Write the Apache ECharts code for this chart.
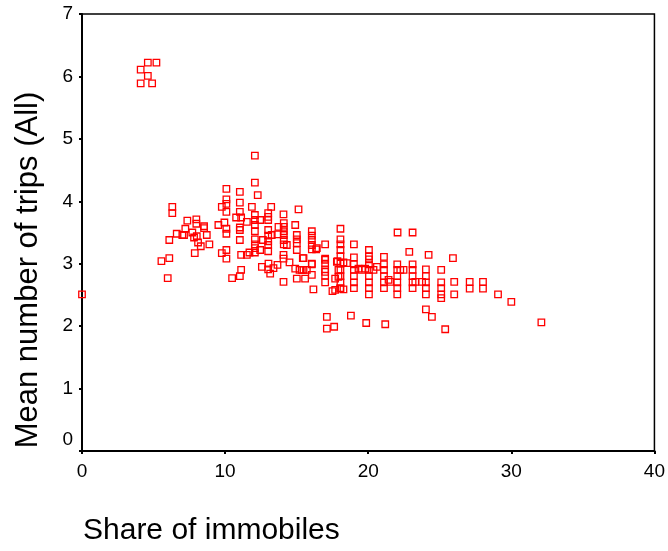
<!DOCTYPE html>
<html>
<head>
<meta charset="utf-8">
<script src="https://cdn.jsdelivr.net/npm/echarts@6/dist/echarts.min.js"></script>
<style>
html,body{margin:0;padding:0;background:#fff;}
#chart{width:668px;height:551px;}
</style>
</head>
<body>
<div id="chart"></div>
<script>
// Share of immobiles (x) and mean number of trips (y)
var shareImmobiles = [
  4.1,4.6,5.2,4.6,4.1,4.9,
  0,
  10.09,11.03,6.31,6.31,9.77,10.09,10.09,10.09,11.03,11.03,10.77,11.12,7.36,7.99,7.99,8.53,8.53,9.53,9.95,10.09,10.09,11.03,11.03,7.22,6.62,7.01,7.13,7.71,7.83,8.02,8.72,11.03,6.10,8.11,8.30,8.90,7.88,9.77,10.09,10.09,11.12,6.10,5.55,11.12,10.49,11.03,5.99,
  12.08,12.08,12.28,11.87,13.22,15.13,14.08,
  12.08,12.08,12.08,12.08,
  13.01,13.01,13.01,12.45,11.52,14.9,
  14.1,14.1,14.1,14.1,14.1,14.1,
  13.73,
  13.01,13.01,13.01,13.01,13.01,
  13.26,13.66,
  12.08,12.08,12.08,12.08,
  12.64,11.70,11.52,12.45,
  15.01,15.01,15.01,15.01,
  16.06,16.06,16.06,16.06,16.06,
  14.31,15.43,16.41,16.99,
  14.08,14.08,14.50,
  13.03,12.57,13.01,13.38,13.15,13.66,
  14.9,15.2,15.36,15.71,
  16.06,
  16.99,16.99,16.99,16.99,16.99,
  17.81,17.92,17.92,
  16.06,15.01,15.59,14.08,16.17,17.50,
  17.11,17.11,17.62,
  18.06,22.05,23.10,19.0,
  18.06,18.06,18.06,18.06,
  20.05,20.05,22.87,24.22,18.51,
  19.0,19.0,19.0,19.0,19.0,19.0,
  20.05,20.05,20.05,20.05,20.05,20.05,20.05,
  21.10,21.10,21.10,21.10,21.10,21.10,
  22.03,22.03,22.03,22.03,22.03,22.03,
  23.10,23.10,23.10,23.10,23.10,
  24.03,24.03,24.03,24.03,24.03,
  25.10,25.10,25.10,25.10,25.10,
  18.06,18.06,18.06,18.06,18.06,
  19.56,19.79,20.37,20.61,19.32,
  21.54,21.42,22.47,23.29,23.76,
  18.27,24.03,24.45,18.79,19.86,21.19,25.38,
  25.92,26.01,26.01,27.09,27.09,28.02,28.02,29.07,30.0,32.1,
  16.36,15.48,15.48,17.85,18.27,16.06,17.69,17.69,18.04,
  22.24,16.99,16.99
];
var meanTrips = [
  6.11,6.22,6.22,6.01,5.89,5.89,
  2.51,
  4.20,4.15,3.91,3.81,3.91,4.03,3.96,3.83,3.98,3.83,3.74,3.74,3.69,3.71,3.64,3.60,3.57,3.62,3.66,3.56,3.48,3.58,3.54,3.56,3.48,3.46,3.46,3.50,3.42,3.44,3.46,3.38,3.38,3.34,3.28,3.31,3.17,3.17,3.22,3.08,3.14,3.09,3.04,2.90,2.77,2.80,2.77,
  4.73,4.30,4.10,3.91,3.91,3.87,3.79,
  3.78,3.70,3.62,3.52,
  3.81,3.75,3.70,3.70,3.67,3.62,
  3.65,3.59,3.52,3.46,3.38,3.31,
  3.59,
  3.54,3.45,3.36,3.30,3.20,
  3.46,3.47,
  3.39,3.31,3.25,3.18,
  3.38,3.18,3.14,3.22,
  3.46,3.39,3.33,3.22,
  3.52,3.45,3.38,3.30,3.23,
  3.30,3.09,3.25,3.31,
  3.14,3.08,3.02,
  3.00,2.95,2.91,2.93,2.84,2.98,
  2.92,2.90,2.90,2.90,
  3.00,
  3.08,3.06,2.91,2.87,2.81,
  3.03,2.90,2.79,
  2.82,2.76,2.76,2.71,2.59,2.56,
  2.15,1.96,1.99,
  3.56,3.50,3.50,3.31,
  3.39,3.31,3.22,3.12,
  3.22,3.12,3.19,3.14,3.01,
  3.10,2.99,2.90,2.80,2.70,2.61,
  3.07,2.99,2.90,2.80,2.70,2.61,2.51,
  3.11,2.99,2.90,2.80,2.70,2.61,
  2.99,2.90,2.80,2.70,2.61,2.51,
  2.99,2.90,2.80,2.70,2.61,
  2.91,2.80,2.70,2.61,2.51,
  2.90,2.70,2.61,2.51,2.45,
  3.00,2.90,2.80,2.70,2.61,
  2.90,2.92,2.90,2.95,2.92,
  2.71,2.74,2.90,2.71,2.71,
  2.59,2.27,2.15,2.17,2.05,2.03,1.95,
  3.09,2.71,2.51,2.71,2.60,2.71,2.60,2.51,2.39,2.06,
  3.23,3.09,2.90,3.04,3.02,2.99,2.76,2.58,2.60,
  2.90,3.00,2.70
];
var xTicks = [0, 10, 20, 30, 40];
var yTicks = [0, 1, 2, 3, 4, 5, 6, 7];
var xTitle = 'Share of immobiles';
var yTitle = 'Mean number of trips (All)';

var points = shareImmobiles.map(function (x, i) { return [x, meanTrips[i]]; });

var chart = echarts.init(document.getElementById('chart'), null, {renderer: 'canvas'});
var font = 'Liberation Sans, Arial, sans-serif';
chart.setOption({
  animation: false,
  backgroundColor: '#ffffff',
  grid: {
    left: 82, top: 14, right: 13, bottom: 100,
    show: true, borderColor: '#000', borderWidth: 1.5, backgroundColor: 'transparent'
  },
  xAxis: {
    type: 'value',
    min: xTicks[0], max: xTicks[xTicks.length - 1], interval: 10,
    axisLine: {show: true, onZero: false, lineStyle: {color: '#000', width: 2}},
    axisTick: {show: true, length: 3, lineStyle: {color: '#000', width: 2}},
    splitLine: {show: false},
    axisLabel: {color: '#000', fontSize: 19, fontFamily: font, margin: 11, showMinLabel: true, showMaxLabel: true}
  },
  yAxis: {
    type: 'value',
    min: yTicks[0], max: yTicks[yTicks.length - 1], interval: 1,
    axisLine: {show: true, onZero: false, lineStyle: {color: '#000', width: 2}},
    axisTick: {show: true, length: 3, lineStyle: {color: '#000', width: 2}},
    splitLine: {show: false},
    axisLabel: {
      color: '#000', fontSize: 19, fontFamily: font, margin: 9,
      formatter: function (v) { return v === 0 ? '{z|0}' : String(v); },
      rich: {z: {color: '#000', fontSize: 19, fontFamily: font, padding: [0, 0, 22, 0]}}
    }
  },
  graphic: [
    {
      type: 'text', left: 83, top: 516,
      style: {text: xTitle, fill: '#000', font: '30px ' + font}
    },
    {
      type: 'text', x: 28, y: 270, rotation: Math.PI / 2,
      style: {text: yTitle, fill: '#000', font: '31px ' + font, align: 'center', verticalAlign: 'middle'}
    }
  ],
  series: [{
    type: 'scatter',
    data: points,
    symbol: 'rect',
    symbolSize: 6.5,
    itemStyle: {color: 'rgba(255,255,255,0)', borderColor: '#ff0000', borderWidth: 1.3, opacity: 1}
  }]
});
</script>
</body>
</html>
